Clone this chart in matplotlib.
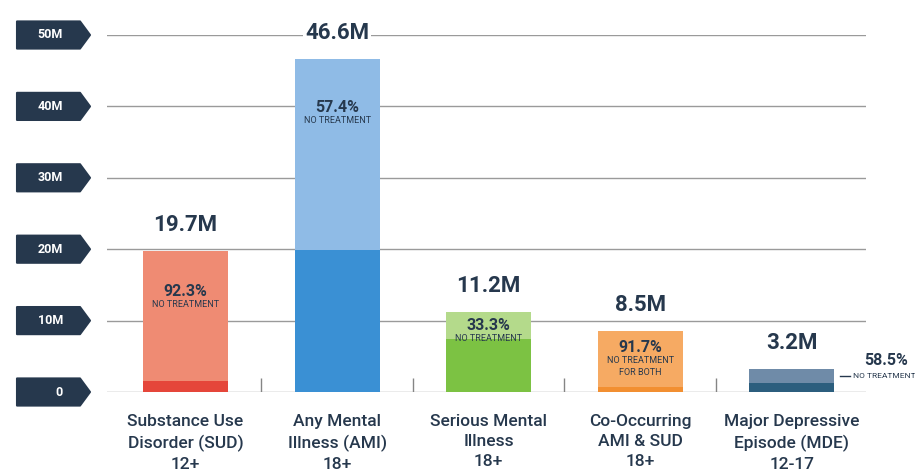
import matplotlib.pyplot as plt
from matplotlib.patches import Polygon
from matplotlib.transforms import blended_transform_factory

plt.rcParams['font.family'] = ['Roboto', 'DejaVu Sans']

categories = ['Substance Use\nDisorder (SUD)\n12+',
              'Any Mental\nIllness (AMI)\n18+',
              'Serious Mental\nIllness\n18+',
              'Co-Occurring\nAMI & SUD\n18+',
              'Major Depressive\nEpisode (MDE)\n12-17']
totals = [19.7, 46.6, 11.2, 8.5, 3.2]          # people, millions
no_treatment = [92.3, 57.4, 33.3, 91.7, 58.5]  # percent without treatment
notes = ['NO TREATMENT', 'NO TREATMENT', 'NO TREATMENT',
         'NO TREATMENT\nFOR BOTH', 'NO TREATMENT']
ytick_values = [0, 10, 20, 30, 40, 50]
ytick_labels = ['0', '10M', '20M', '30M', '40M', '50M']

light = ['#ef8b73', '#8fbbe6', '#b4da8b', '#f6aa63', '#6f8ba8']
dark = ['#e5463a', '#3a90d4', '#7cc243', '#f28f31', '#2c5e7e']
navy = '#26384d'
grid_gray = '#9a9a9a'

W, H = 915, 472
fig = plt.figure(figsize=(W / 100, H / 100), dpi=100)
ax = fig.add_axes([107 / W, 80 / H, 759 / W, 357 / H])
fig_x = blended_transform_factory(fig.transFigure, ax.transData)

x = range(len(totals))
treated = [t * (1 - p / 100) for t, p in zip(totals, no_treatment)]
untreated = [t - d for t, d in zip(totals, treated)]

ax.bar(x, treated, width=0.56, color=dark, zorder=2)
ax.bar(x, untreated, bottom=treated, width=0.56, color=light, zorder=2)

ax.set_xlim(-0.518, 4.489)
ax.set_ylim(0, 50)
for s in ax.spines.values():
    s.set_visible(False)
ax.set_yticks(ytick_values)
ax.set_yticklabels([])
ax.tick_params(axis='y', length=0)
ax.yaxis.grid(True, color=grid_gray, lw=1)
ax.set_axisbelow(True)

ax.set_xticks(list(x))
ax.set_xticklabels(categories, fontsize=12.5, fontweight='medium',
                   color=navy, linespacing=1.42)
ax.tick_params(axis='x', length=0, pad=16)

# small separators between the groups
ax.vlines([0.5, 1.5, 2.5, 3.5], 0, 2.0, color='#858585', lw=1, zorder=1)

# totals above the bars
for i, t in enumerate(totals):
    ax.annotate(f'{t}M', (i, t), xytext=(0, 26), textcoords='offset pixels',
                ha='center', va='center', fontsize=16, fontweight='bold',
                color=navy, zorder=4,
                bbox=dict(boxstyle='square,pad=0.1', fc='white', ec='none'))

# share without treatment, written inside the bars
drops = [40, 48, 13, 16]
for i, d in enumerate(drops):
    ax.annotate(f'{no_treatment[i]}%', (i, totals[i]), xytext=(0, -d),
                textcoords='offset pixels', ha='center', va='center',
                fontsize=11.5, fontweight='bold', color=navy, zorder=4)
    ax.annotate(notes[i], (i, totals[i]), xytext=(0, -d - 9),
                textcoords='offset pixels', ha='center', va='top',
                fontsize=6.5, color=navy, linespacing=1.45, zorder=4)

# last bar is too short, so its label sits to the right
i = 4
mid = treated[i] + untreated[i] / 2
ax.annotate(f'{no_treatment[i]}%', (864 / W, mid), xycoords=fig_x,
            xytext=(0, 15), textcoords='offset pixels', ha='left',
            va='center', fontsize=11.5, fontweight='bold', color=navy,
            annotation_clip=False)
ax.plot([840 / W, 850 / W], [mid, mid], color=navy, lw=1,
        transform=fig_x, clip_on=False)
ax.text(853 / W, mid, notes[i], transform=fig_x, ha='left', va='center',
        fontsize=6, color=navy)

# navy arrow badges for the y values
half = 1.9
for v, lab in zip(ytick_values, ytick_labels):
    pts = [(17 / W, v - half), (80 / W, v - half), (90 / W, v),
           (80 / W, v + half), (17 / W, v + half)]
    ax.add_patch(Polygon(pts, closed=True, transform=fig_x, fc=navy,
                         ec=navy, lw=1.5, joinstyle='round', clip_on=False))
    ax.text(63 / W, v, lab, transform=fig_x, ha='right', va='center',
            fontsize=9, fontweight='bold', color='white')

fig.savefig('out.png', dpi=100, facecolor='white')
